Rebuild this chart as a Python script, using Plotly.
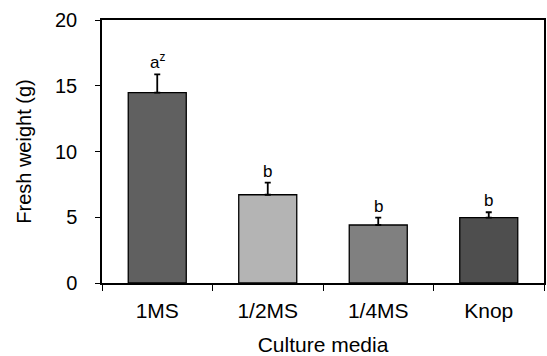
import plotly.graph_objects as go

# Fresh weight by culture medium
media = ["1MS", "1/2MS", "1/4MS", "Knop"]
fresh_weight = [14.47, 6.71, 4.41, 4.97]
std_err = [1.40, 0.92, 0.56, 0.41]
letters = ["a<sup>z</sup>", "b", "b", "b"]
bar_colors = ["#606060", "#b4b4b4", "#808080", "#4e4e4e"]
y_ticks = [0, 5, 10, 15, 20]

FONT = "Liberation Sans"

fig = go.Figure()
fig.add_trace(go.Bar(
    x=media,
    y=fresh_weight,
    width=0.525,
    marker=dict(color=bar_colors, line=dict(color="black", width=1.3)),
    error_y=dict(type="data", array=std_err, arrayminus=[0] * len(std_err),
                 symmetric=False, color="black", thickness=1.8, width=3),
))

for m, v, e, lab in zip(media, fresh_weight, std_err, letters):
    fig.add_annotation(x=m, y=v + e, text=lab, showarrow=False,
                       yanchor="bottom", yshift=0,
                       font=dict(family=FONT, size=17, color="black"))

fig.update_layout(
    width=547, height=356,
    margin=dict(l=102, r=3, t=20, b=73, autoexpand=False),
    paper_bgcolor="white", plot_bgcolor="white",
    showlegend=False,
    font=dict(family=FONT, size=20, color="black"),
)
fig.update_xaxes(
    showline=True, linecolor="black", linewidth=1.5, mirror=True,
    ticks="outside", ticklen=6, tickwidth=1, tickcolor="black",
    tickson="boundaries", ticklabelstandoff=8,
    tickfont=dict(family=FONT, size=21, color="black"),
    title=dict(text="Culture media", standoff=20,
               font=dict(family=FONT, size=21, color="black")),
)
fig.update_yaxes(
    range=[0, 20], tickvals=y_ticks,
    showline=True, linecolor="black", linewidth=1.5, mirror=True,
    ticks="outside", ticklen=5, tickwidth=1, tickcolor="black",
    showgrid=False, zeroline=False, ticklabelstandoff=14,
    tickfont=dict(family=FONT, size=20, color="black"),
    title=dict(text="Fresh weight (g)", standoff=18,
               font=dict(family=FONT, size=20, color="black")),
)

fig.write_html("out.html")
